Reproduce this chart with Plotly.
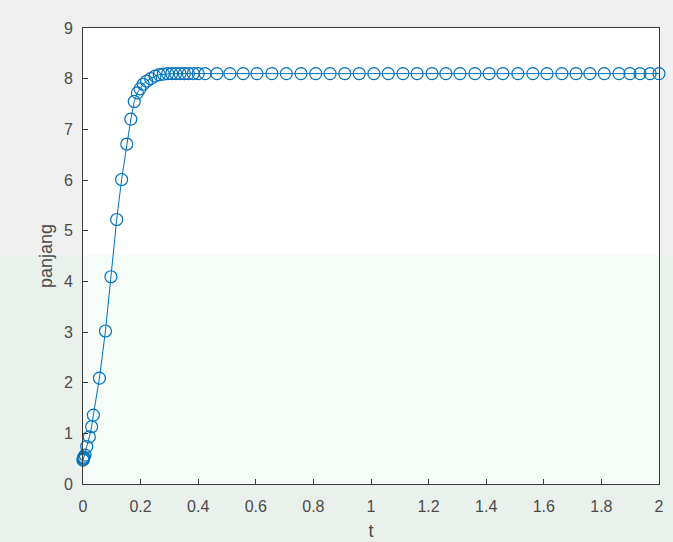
import plotly.graph_objects as go

t = [0.0, 0.001, 0.002, 0.003, 0.007, 0.013, 0.022, 0.030, 0.036, 0.057, 0.078, 0.097,
     0.117, 0.134, 0.152, 0.166, 0.178, 0.189, 0.198, 0.209, 0.221, 0.235, 0.25,
     0.265, 0.279, 0.294, 0.308, 0.322, 0.337, 0.352, 0.366, 0.383, 0.4, 0.424,
     0.465, 0.51, 0.556, 0.604, 0.656, 0.706, 0.757, 0.808, 0.858, 0.909, 0.959,
     1.01, 1.06, 1.111, 1.16, 1.212, 1.26, 1.309, 1.361, 1.41, 1.458, 1.51, 1.562,
     1.611, 1.663, 1.712, 1.76, 1.81, 1.861, 1.899, 1.934, 1.969, 2.0]
panjang = [0.47, 0.49, 0.51, 0.53, 0.57, 0.74, 0.93, 1.13, 1.36, 2.09, 3.02, 4.09,
           5.22, 6.01, 6.71, 7.2, 7.55, 7.72, 7.8, 7.89, 7.95, 8.0, 8.05,
           8.08, 8.09, 8.1, 8.1, 8.1, 8.1, 8.1, 8.1, 8.1, 8.1, 8.1,
           8.1, 8.1, 8.1, 8.1, 8.1, 8.1, 8.1, 8.1, 8.1, 8.1, 8.1,
           8.1, 8.1, 8.1, 8.1, 8.1, 8.1, 8.1, 8.1, 8.1, 8.1, 8.1, 8.1,
           8.1, 8.1, 8.1, 8.1, 8.1, 8.1, 8.1, 8.1, 8.1, 8.1]

x_ticks = [0, 0.2, 0.4, 0.6, 0.8, 1, 1.2, 1.4, 1.6, 1.8, 2]
x_tick_labels = ["0", "0.2", "0.4", "0.6", "0.8", "1", "1.2", "1.4", "1.6", "1.8", "2"]
y_ticks = list(range(0, 10))
y_tick_labels = [str(v) for v in y_ticks]

blue = "#0072BD"
FONT = "Liberation Sans, Arial, sans-serif"

fig = go.Figure()
fig.add_trace(go.Scatter(
    x=t, y=panjang, mode="lines+markers",
    line=dict(color=blue, width=1),
    marker=dict(symbol="circle-open", size=12, color=blue, line=dict(width=1.2, color=blue)),
    showlegend=False, cliponaxis=False,
))

axis_common = dict(
    showgrid=False, zeroline=False, showline=True, linecolor="#3a3a3a", linewidth=1,
    mirror=True, ticks="inside", ticklen=5, tickcolor="#3a3a3a", automargin=False,
    tickfont=dict(family=FONT, size=16, color="#4a4a4a"),
)

# faint scan tint over the lower half of the page
fig.add_shape(type="rect", xref="paper", yref="paper",
              x0=-0.2, x1=1.2, y0=-0.2, y1=0.502, layer="below",
              fillcolor="rgba(215,240,225,0.22)", line=dict(width=0))

fig.update_layout(
    width=673, height=542,
    paper_bgcolor="#f0f0f0", plot_bgcolor="white",
    margin=dict(l=83, r=14, t=28, b=58),
    xaxis=dict(range=[0, 2], tickvals=x_ticks, ticktext=x_tick_labels,
               ticklabelstandoff=8,
               title=dict(text="t", font=dict(family=FONT, size=18, color="#4a4a4a"), standoff=10),
               **axis_common),
    yaxis=dict(range=[0, 9], tickvals=y_ticks, ticktext=y_tick_labels,
               ticklabelstandoff=6,
               title=dict(text="panjang", font=dict(family=FONT, size=18, color="#4a4a4a"), standoff=6),
               **axis_common),
    font=dict(family=FONT),
)

fig.write_html("out.html", config={"displayModeBar": False},
               post_script="document.body.style.margin='0';document.body.style.padding='0';")
